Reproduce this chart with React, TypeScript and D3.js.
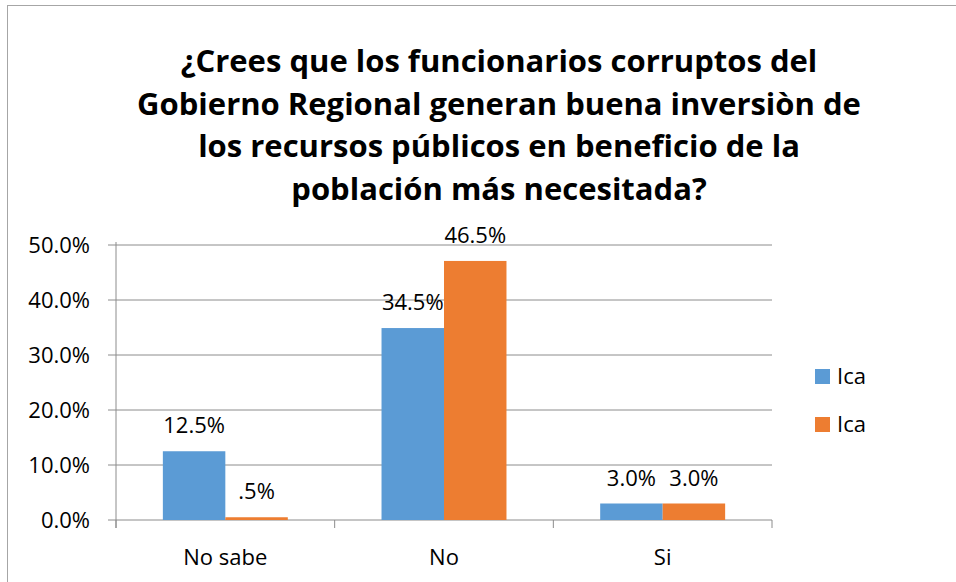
import React from "react";
import * as d3 from "d3";

const categories = ["No sabe", "No", "Si"];
const seriesNames = ["Ica", "Ica"];
const seriesA = [12.5, 34.9, 3.0];
const seriesB = [0.5, 47.1, 3.0];
const labelsA = ["12.5%", "34.5%", "3.0%"];
const labelsB = [".5%", "46.5%", "3.0%"];
const yTicks = [0, 10, 20, 30, 40, 50];
const titleLines = [
  "¿Crees que los funcionarios corruptos del",
  "Gobierno Regional generan buena inversiòn de",
  "los recursos públicos en beneficio de la",
  "población más necesitada?",
];
const colors = ["#5B9BD5", "#ED7D31"];

const W = 956;
const H = 582;
const FONT = "'Open Sans', 'Noto Sans', sans-serif";

export default function App() {
  const plotLeft = 116;
  const plotRight = 772;
  const y = d3.scaleLinear().domain([0, 50]).range([520, 245]);
  const x0 = d3.scaleBand().domain(categories).range([plotLeft, plotRight]).paddingInner(0).paddingOuter(0);
  const groupW = x0.bandwidth();
  const barW = groupW / 3.5;
  const series = [seriesA, seriesB];
  const labels = [labelsA, labelsB];
  const gridColor = "#8c8c8c";
  const boundaries = [...categories.map((c) => x0(c) as number), plotRight];

  return (
    <svg width={W} height={H} style={{ position: "absolute", left: 0, top: 0, background: "#fff" }}>
      <rect x={7.5} y={5.5} width={W + 20} height={H + 20} fill="#fff" stroke="#a6a6a6" strokeWidth={1} />
      {titleLines.map((t, i) => (
        <text key={i} x={499} y={72 + i * 42.5} textAnchor="middle" fontFamily={FONT} fontWeight="bold" fontSize={31} fill="#000">
          {t}
        </text>
      ))}
      {yTicks.map((v) => (
        <g key={v}>
          <line x1={108} x2={plotRight} y1={y(v)} y2={y(v)} stroke={gridColor} strokeWidth={1} />
          <text x={90} y={y(v)} dy="0.35em" textAnchor="end" fontFamily={FONT} fontSize={22} fill="#000">
            {d3.format(".1f")(v) + "%"}
          </text>
        </g>
      ))}
      <line x1={plotLeft} x2={plotLeft} y1={242} y2={528} stroke={gridColor} strokeWidth={1} />
      {boundaries.map((bx, i) => (
        <line key={i} x1={bx} x2={bx} y1={520} y2={528} stroke={gridColor} strokeWidth={1} />
      ))}
      {categories.map((c, ci) => {
        const gx = (x0(c) as number) + (groupW - 2 * barW) / 2;
        return (
          <g key={c}>
            {series.map((s, si) => {
              const bx = gx + si * barW;
              return (
                <g key={si}>
                  <rect x={bx} y={y(s[ci])} width={barW} height={y(0) - y(s[ci])} fill={colors[si]} />
                  <text x={bx + barW / 2} y={y(s[ci]) - 18} textAnchor="middle" fontFamily={FONT} fontSize={22} fill="#000">
                    {labels[si][ci]}
                  </text>
                </g>
              );
            })}
            <text x={(x0(c) as number) + groupW / 2} y={565} textAnchor="middle" fontFamily={FONT} fontSize={22} fill="#000">
              {c}
            </text>
          </g>
        );
      })}
      {seriesNames.map((n, i) => (
        <g key={i}>
          <rect x={815} y={369 + i * 48} width={15} height={15} fill={colors[i]} />
          <text x={837} y={376.5 + i * 48} dy="0.35em" fontFamily={FONT} fontSize={22} fill="#000">
            {n}
          </text>
        </g>
      ))}
    </svg>
  );
}
